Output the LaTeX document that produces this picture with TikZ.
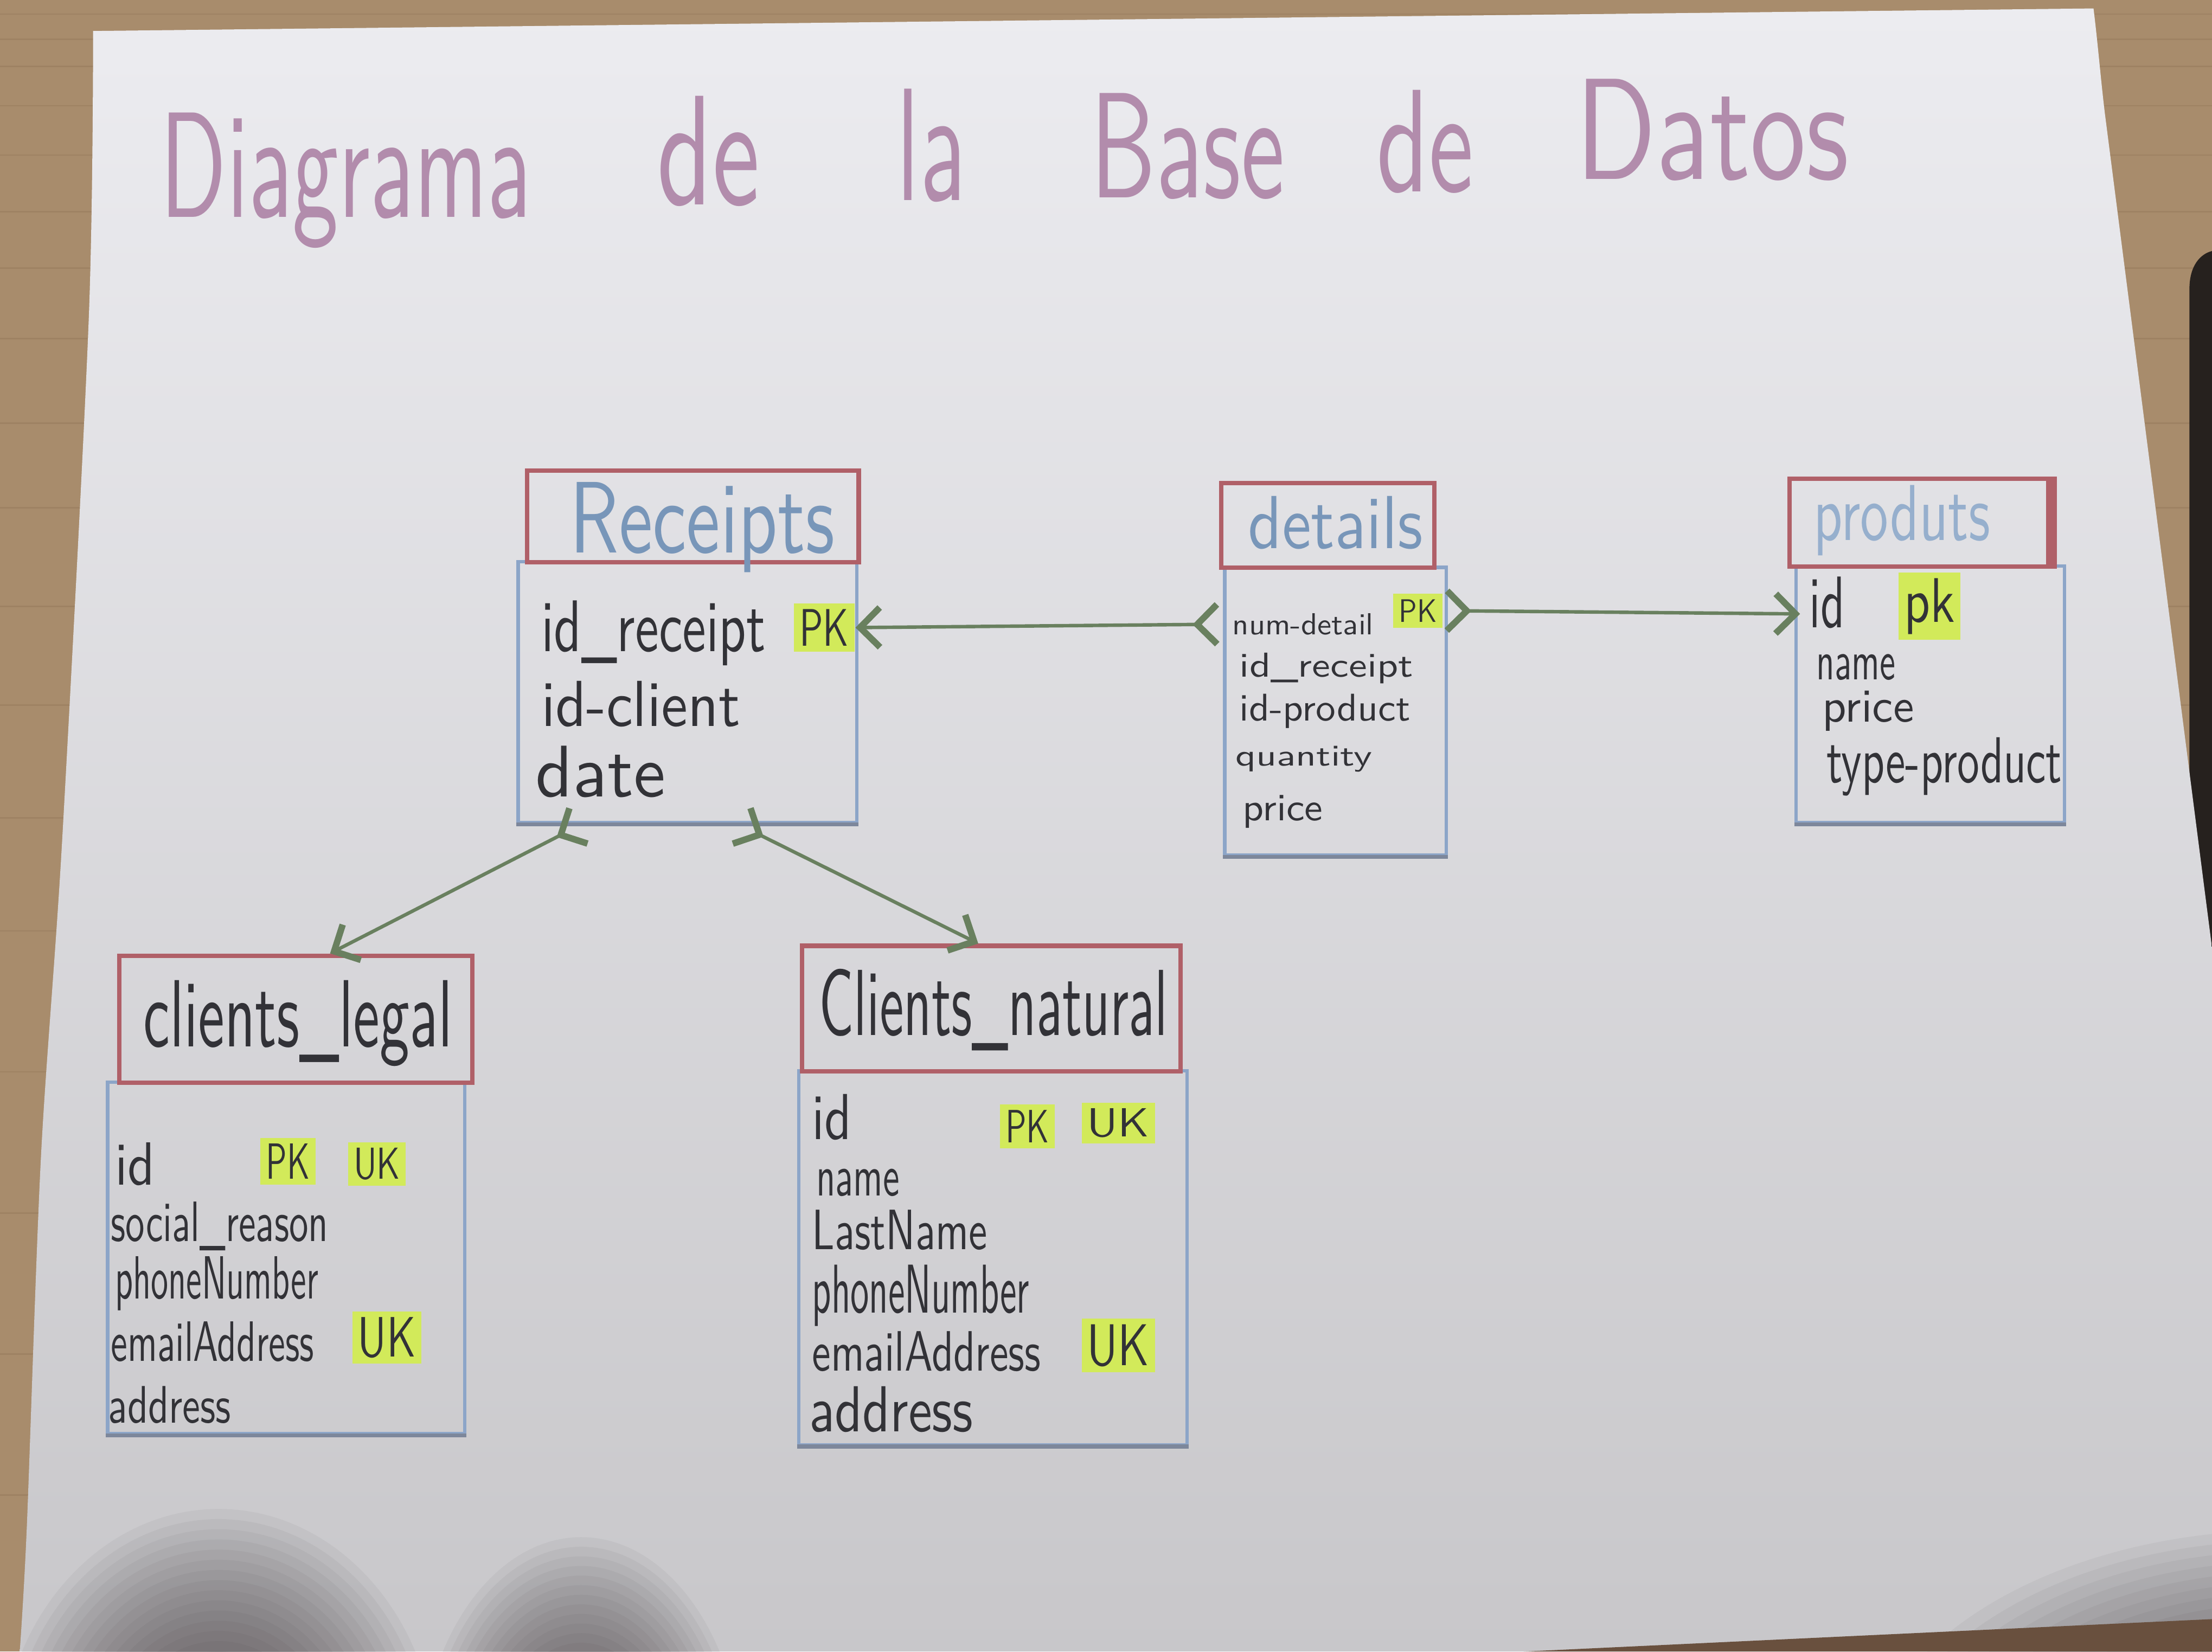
\documentclass[tikz,border=0pt]{standalone}
\usetikzlibrary{arrows.meta,calc}
\newlength{\pxu}\setlength{\pxu}{0.01cm}
\newcommand{\hw}[3]{\resizebox{#1\pxu}{#2\pxu}{#3}}
\definecolor{woodc}{RGB}{168,140,108}
\definecolor{woodl}{RGB}{140,112,84}
\definecolor{wooddk}{RGB}{105,80,62}
\definecolor{paperT}{RGB}{236,236,240}
\definecolor{paperB}{RGB}{200,199,202}
\definecolor{hdrc}{RGB}{176,96,104}
\definecolor{bodyc}{RGB}{140,165,200}
\definecolor{edgec}{RGB}{125,135,155}
\definecolor{ink}{RGB}{50,50,55}
\definecolor{titlec}{RGB}{120,150,185}
\definecolor{titlec2}{RGB}{150,175,205}
\definecolor{mauve}{RGB}{178,140,172}
\definecolor{hlc}{RGB}{210,234,90}
\definecolor{lnk}{RGB}{105,128,95}
\definecolor{shd}{RGB}{55,50,52}
\definecolor{darkobj}{RGB}{38,33,30}
\begin{document}
\begin{tikzpicture}[x=0.01cm,y=-0.01cm,
  hdr/.style={draw=hdrc, line width=0.9pt, anchor=north west, inner sep=0, rectangle},
  bdy/.style={draw=bodyc, line width=0.7pt, anchor=north west, inner sep=0, rectangle},
  fld/.style={inner sep=0, anchor=base west, text=ink, font=\sffamily},
  ttl/.style={inner sep=0, anchor=base west, font=\sffamily},
  hlt/.style={fill=hlc, inner xsep=0.04cm, inner ysep=0.04cm, anchor=base west, text=ink, font=\sffamily},
  rel/.style={draw=lnk, line width=0.7pt,
    arrows={Straight Barb[reversed,length=4pt,width=8pt,line width=1.3pt]-Straight Barb[length=4pt,width=8pt,line width=1.3pt]}}
]
\useasboundingbox (0,0) rectangle (1568,1171);
% ---------- background ----------
\fill[woodc] (0,0) rectangle (1568,1171);
\foreach \y in {10,28,47,75,110,150,190,240,300,360,430,500,580,660,760,860,960,1060}
  \draw[woodl, line width=0.3pt, opacity=0.35] (0,\y) -- (1568,\y);
\fill[darkobj] (1552,205) .. controls (1552,188) and (1560,180) .. (1568,178) -- (1568,720) -- (1552,720) -- cycle;
\shade[top color=paperT, bottom color=paperB]
  (14,1171) -- plot[smooth] coordinates {(14,1171) (19,1083) (29,821) (44,597) (63,224) (66,22)}
  -- (1484,6) .. controls (1487,30) and (1489,55) .. (1492,80) -- (1568,672) -- (1568,1171) -- cycle;
% soft shadows at the bottom
\foreach \f in {1.00,0.96,0.92,0.88,0.84,0.80,0.76,0.72,0.68,0.64,0.60,0.56,0.52,0.48,0.44,0.40} {
  \fill[shd, opacity=0.05] (155,1250) ellipse [x radius=\f*1.55cm, y radius=\f*1.8cm];
  \fill[shd, opacity=0.05] (412,1260) ellipse [x radius=\f*1.15cm, y radius=\f*1.7cm];
  \fill[shd, opacity=0.05] (1620,1270) ellipse [x radius=\f*3.0cm, y radius=\f*1.85cm];
}
\fill[wooddk] (1080,1171) -- (1568,1148) -- (1568,1171) -- cycle;
% ---------- title ----------
\node[ttl, text=mauve] (t1) at (113,154) {\hw{263}{74}{Diagrama}};
\node[ttl, text=mauve] (t2) at (465,145) {\hw{73}{77}{de}};
\node[ttl, text=mauve] (t3) at (635,142) {\hw{49}{79}{la}};
\node[ttl, text=mauve] (t4) at (772,140) {\hw{138}{74}{Base}};
\node[ttl, text=mauve] (t5) at (975,136) {\hw{69}{72}{de}};
\node[ttl, text=mauve] (t6) at (1116,127) {\hw{194}{71}{Datos}};
% ---------- Receipts ----------
\node[bdy, minimum width=2.40cm, minimum height=1.85cm] (rcpB) at (366,397) {};
\draw[edgec, line width=0.7pt] (rcpB.south west) -- (rcpB.south east);
\node[hdr, minimum width=2.35cm, minimum height=0.65cm] (rcpH) at (372,332) {};
\node[ttl, text=titlec] (rcpT) at (403,392) {\hw{188}{50}{Receipts}};
\node[fld] (rcpF1) at (383,462) {\hw{159}{36}{id\_receipt}};
\node[hlt] (rcpPK) at (562,458) {\hw{35}{26}{PK}};
\node[fld] (rcpF2) at (383,515) {\hw{141}{32}{id-client}};
\node[fld] (rcpF3) at (379,565) {\hw{92}{36}{date}};
% ---------- details ----------
\node[bdy, minimum width=1.57cm, minimum height=2.04cm] (detB) at (867,401) {};
\draw[edgec, line width=0.7pt] (detB.south west) -- (detB.south east);
\node[hdr, minimum width=1.51cm, minimum height=0.60cm] (detH) at (864,341) {};
\node[ttl, text=titlec] (detT) at (884,389) {\hw{124}{37}{details}};
\node[fld] (detNum) at (873,450) {\hw{100}{15}{num-detail}};
\node[hlt] (detPK) at (987,441) {\hw{27}{16}{PK}};
\node[fld] (detF2) at (878,480) {\hw{123}{17}{id\_receipt}};
\node[fld] (detF3) at (878,511) {\hw{121}{19}{id-product}};
\node[fld] (detF4) at (875,543) {\hw{97}{14}{quantity}};
\node[fld] (detF5) at (880,582) {\hw{57}{18}{price}};
% ---------- produts ----------
\node[bdy, minimum width=1.90cm, minimum height=1.82cm] (prdB) at (1272,400) {};
\draw[edgec, line width=0.7pt] (prdB.south west) -- (prdB.south east);
\node[hdr, minimum width=1.84cm, minimum height=0.62cm] (prdH) at (1267,338) {};
\draw[hdrc, line width=2.2pt] (prdH.north east) -- (prdH.south east);
\node[ttl, text=titlec2] (prdT) at (1285,383) {\hw{125}{39}{produts}};
\node[fld] (prdId) at (1282,445) {\hw{25}{36}{id}};
\node[hlt] (prdPK) at (1345,441) {\hw{36}{31}{pk}};
\node[fld] (prdF2) at (1287,482) {\hw{56}{18}{name}};
\node[fld] (prdF3) at (1291,512) {\hw{65}{22}{price}};
\node[fld] (prdF4) at (1294,555) {\hw{167}{32}{type-product}};
% ---------- clients_legal ----------
\node[bdy, minimum width=2.53cm, minimum height=2.49cm] (clB) at (75,766) {};
\draw[edgec, line width=0.8pt] (clB.south west) -- (clB.south east);
\node[hdr, minimum width=2.50cm, minimum height=0.90cm] (clH) at (83,676) {};
\node[ttl, text=ink] (clT) at (101,742) {\hw{219}{47}{clients\_legal}};
\node[fld] (clF1) at (81,840) {\hw{28}{30}{id}};
\node[hlt] (clPK) at (184,836) {\hw{31}{25}{PK}};
\node[hlt] (clUK1) at (246,836) {\hw{33}{22}{UK}};
\node[fld] (clF2) at (78,880) {\hw{154}{28}{social\_reason}};
\node[fld] (clF3) at (81,921) {\hw{144}{30}{phoneNumber}};
\node[fld] (clF4) at (78,965) {\hw{144}{28}{emailAddress}};
\node[hlt] (clUK2) at (249,962) {\hw{41}{28}{UK}};
\node[fld] (clF5) at (76,1009) {\hw{87}{26}{address}};
% ---------- Clients_natural ----------
\node[bdy, minimum width=2.75cm, minimum height=2.65cm] (cnB) at (565,758) {};
\draw[edgec, line width=0.8pt] (cnB.south west) -- (cnB.south east);
\node[hdr, minimum width=2.68cm, minimum height=0.89cm] (cnH) at (567,669) {};
\node[ttl, text=ink] (cnT) at (580,734) {\hw{247}{47}{Clients\_natural}};
\node[fld] (cnF1) at (575,808) {\hw{28}{32}{id}};
\node[hlt] (cnPK) at (708,810) {\hw{31}{23}{PK}};
\node[hlt] (cnUK1) at (766,806) {\hw{44}{20}{UK}};
\node[fld] (cnF2) at (578,848) {\hw{59}{19}{name}};
\node[fld] (cnF3) at (575,886) {\hw{124}{28}{LastName}};
\node[fld] (cnF4) at (575,931) {\hw{154}{34}{phoneNumber}};
\node[fld] (cnF5) at (575,972) {\hw{162}{28}{emailAddress}};
\node[hlt] (cnUK2) at (766,968) {\hw{44}{29}{UK}};
\node[fld] (cnF6) at (573,1015) {\hw{116}{32}{address}};
% ---------- connectors ----------
\draw[rel] ([xshift=-0.08cm]detNum.west) -- (rcpPK.east);
\draw[rel] (detPK.east) -- ([xshift=-0.06cm,yshift=-0.08cm]prdId.west);
\draw[rel] ($(rcpB.south west)!0.19!(rcpB.south east)$) -- ($(clH.north west)!0.596!(clH.north east)$);
\draw[rel] ($(rcpB.south west)!0.65!(rcpB.south east)$) -- ($(cnH.north west)!0.466!(cnH.north east)$);
\end{tikzpicture}
\end{document}
